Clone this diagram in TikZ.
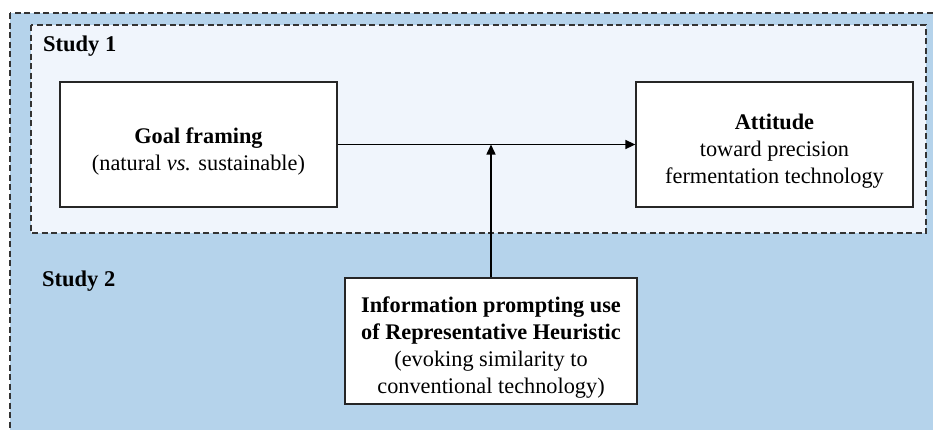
\documentclass[tikz,border=0pt]{standalone}
\usepackage{fontspec}
\setmainfont{Liberation Serif}
\usetikzlibrary{arrows.meta}
\definecolor{outerblue}{HTML}{B5D3EB}
\definecolor{innerblue}{HTML}{F0F5FC}
\definecolor{dashgray}{HTML}{333333}
\newcommand{\mytopstrut}{\rule{0pt}{29pt}}
\tikzset{
  region/.style={draw=dashgray, line width=1.2pt, dash pattern=on 6pt off 3.5pt},
  box/.style={draw=black!85, line width=1.3pt, fill=white, align=center, inner sep=4pt,
    font=\fontsize{22.3}{27}\selectfont},
  studylabel/.style={anchor=west, font=\fontsize{22.5}{26}\selectfont\bfseries, inner sep=0pt},
  conn/.style={line width=1.5pt, -{Triangle[length=10pt,width=9pt]}}
}
\begin{document}
\begin{tikzpicture}[x=1pt,y=-1pt]
\useasboundingbox (0,0) rectangle (933,429);
\clip (0,0) rectangle (933,429);
\fill[white] (0,0) rectangle (933,429);
\draw[region, fill=outerblue] (10,13) rectangle (960,460);
\draw[region, fill=innerblue] (31,25) rectangle (926,233);
\node[studylabel] (s1) at (43,46) {Study 1};
\node[studylabel] (s2) at (42,281) {Study 2};
\node[box, minimum width=277pt, minimum height=125pt] (goal) at (198.5,144.5)
  {\mytopstrut\textbf{Goal framing}\\(natural \textit{vs.} sustainable)};
\node[box, minimum width=277pt, minimum height=125pt] (att) at (774.5,144.5)
  {\mytopstrut\textbf{Attitude}\\toward precision\\fermentation technology};
\node[box, minimum width=292pt, minimum height=126pt] (info) at (491,341)
  {\mytopstrut\textbf{Information prompting use}\\\textbf{of Representative Heuristic}\\(evoking similarity to\\conventional technology)};
\coordinate (meet) at (info.north |- goal.east);
\draw[conn] (goal.east) -- (att.west);
\draw[conn] (info.north) -- (meet);
\end{tikzpicture}
\end{document}
